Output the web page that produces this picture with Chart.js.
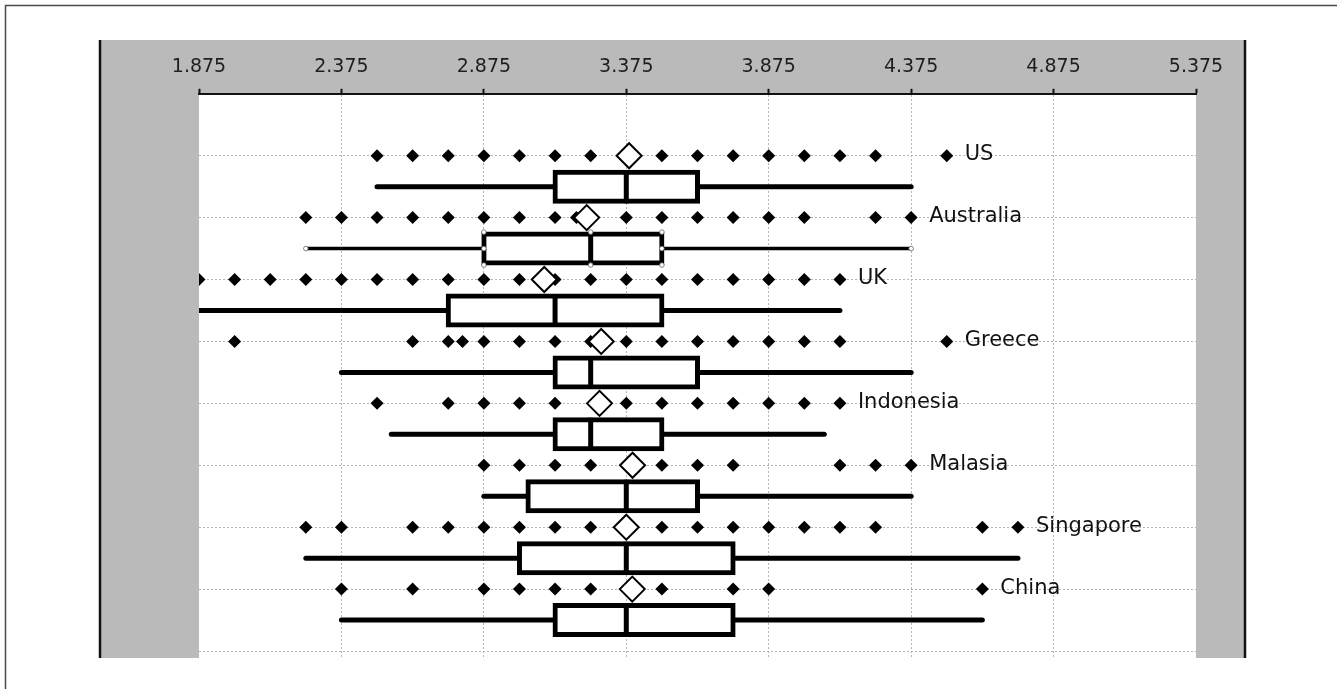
<!DOCTYPE html>
<html>
<head>
<meta charset="utf-8">
<title>Country score distributions</title>
<script src="https://cdn.jsdelivr.net/npm/chart.js@4.4.1/dist/chart.umd.min.js"></script>
<style>
  html, body { margin: 0; padding: 0; background: #fff; }
  canvas { display: block; }
</style>
</head>
<body>
<canvas id="chart" width="1337" height="689"></canvas>
<script>
// ---- data ---------------------------------------------------------------
const categories = ['US', 'Australia', 'UK', 'Greece', 'Indonesia', 'Malasia', 'Singapore', 'China'];
const xTickValues = [1.875, 2.375, 2.875, 3.375, 3.875, 4.375, 4.875, 5.375];

// distinct observed scores per country
const usScores        = [2.5, 2.625, 2.75, 2.875, 3.0, 3.125, 3.25, 3.375, 3.5, 3.625, 3.75, 3.875, 4.0, 4.125, 4.25, 4.5];
const australiaScores = [2.25, 2.375, 2.5, 2.625, 2.75, 2.875, 3.0, 3.125, 3.2, 3.25, 3.375, 3.5, 3.625, 3.75, 3.875, 4.0, 4.25, 4.375];
const ukScores        = [1.875, 2.0, 2.125, 2.25, 2.375, 2.5, 2.625, 2.75, 2.875, 3.0, 3.125, 3.25, 3.375, 3.5, 3.625, 3.75, 3.875, 4.0, 4.125];
const greeceScores    = [2.0, 2.625, 2.75, 2.8, 2.875, 3.0, 3.125, 3.25, 3.375, 3.5, 3.625, 3.75, 3.875, 4.0, 4.125, 4.5];
const indonesiaScores = [2.5, 2.75, 2.875, 3.0, 3.125, 3.375, 3.5, 3.625, 3.75, 3.875, 4.0, 4.125];
const malasiaScores   = [2.875, 3.0, 3.125, 3.25, 3.375, 3.5, 3.625, 3.75, 4.125, 4.25, 4.375];
const singaporeScores = [2.25, 2.375, 2.625, 2.75, 2.875, 3.0, 3.125, 3.25, 3.375, 3.5, 3.625, 3.75, 3.875, 4.0, 4.125, 4.25, 4.625, 4.75];
const chinaScores     = [2.375, 2.625, 2.875, 3.0, 3.125, 3.25, 3.375, 3.5, 3.75, 3.875, 4.625];
const scoreRows = [usScores, australiaScores, ukScores, greeceScores, indonesiaScores, malasiaScores, singaporeScores, chinaScores];

// summary statistics per country
const means    = [3.385, 3.236, 3.087, 3.287, 3.281, 3.397, 3.375, 3.396];
const lows     = [2.5, 2.25, 1.875, 2.375, 2.55, 2.875, 2.25, 2.375];
const q1s      = [3.125, 2.875, 2.75, 3.125, 3.125, 3.03, 3.0, 3.125];
const medians  = [3.375, 3.25, 3.125, 3.25, 3.25, 3.375, 3.375, 3.375];
const q3s      = [3.625, 3.5, 3.5, 3.625, 3.5, 3.625, 3.75, 3.75];
const highs    = [4.375, 4.375, 4.125, 4.375, 4.07, 4.375, 4.75, 4.625];

// ---- layout / style -----------------------------------------------------
const SELECTED_ROW = 1;          // the box drawn with edit handles
const BOX_SHIFT = 0.5;           // box sits half a row below its dot row
const ROW_PX = 62;
const AREA = { left: 199, right: 1196, top: 93, bottom: 658 };
const PANEL = { left: 100, right: 1245, top: 40, bottom: 658 };
const GRID_COLOR = '#b4b4b4';

const dotRowY = i => i;
const boxRowY = i => i + BOX_SHIFT;

// ---- datasets -----------------------------------------------------------
const whiskerSets = categories.map((name, i) => ({
  type: 'line',
  label: name + ' range',
  data: [{ x: lows[i], y: boxRowY(i) }, { x: highs[i], y: boxRowY(i) }],
  borderColor: '#000',
  borderWidth: i === SELECTED_ROW ? 3.5 : 5,
  borderCapStyle: 'round',
  pointRadius: 0,
  showLine: true,
  fill: false,
  order: 6
}));

// boxes: the outline is centred on the quartile values
const boxSet = {
  type: 'bar',
  label: 'interquartile range',
  indexAxis: 'y',
  grouped: false,
  data: categories.map((name, i) => ({ x: [q1s[i], q3s[i]], y: boxRowY(i) })),
  backgroundColor: '#fff',
  borderColor: '#000',
  borderWidth: 5,
  inflateAmount: 2.5,
  borderSkipped: false,
  barThickness: 29,
  order: 5
};

const medianSet = {
  type: 'scatter',
  label: 'median',
  data: categories.map((name, i) => ({ x: medians[i], y: boxRowY(i) })),
  pointStyle: 'line',
  rotation: 90,
  radius: 16.5,
  borderColor: '#000',
  borderWidth: 5,
  order: 4
};

const dotSet = {
  type: 'scatter',
  label: 'scores',
  data: scoreRows.flatMap((row, i) => row.map(v => ({ x: v, y: dotRowY(i) }))),
  pointStyle: 'rectRot',
  radius: 6.5,
  backgroundColor: '#000',
  borderWidth: 0,
  order: 3
};

const meanSet = {
  type: 'scatter',
  label: 'mean',
  data: categories.map((name, i) => ({ x: means[i], y: dotRowY(i) })),
  pointStyle: 'rectRot',
  radius: 12.5,
  backgroundColor: '#fff',
  borderColor: '#000',
  borderWidth: 2,
  order: 1
};

// ---- plugins ------------------------------------------------------------
const framePlugin = {
  id: 'frame',
  beforeDraw(chart) {
    const { ctx, width, height } = chart;
    ctx.save();
    ctx.fillStyle = '#fff';
    ctx.fillRect(0, 0, width, height);
    // outer rule lines
    ctx.strokeStyle = '#4a4a4a';
    ctx.lineWidth = 1.5;
    ctx.beginPath();
    ctx.moveTo(5.5, height);
    ctx.lineTo(5.5, 5.5);
    ctx.lineTo(width, 5.5);
    ctx.stroke();
    // grey panel
    ctx.fillStyle = '#bababa';
    ctx.fillRect(PANEL.left, PANEL.top, PANEL.right - PANEL.left, PANEL.bottom - PANEL.top);
    ctx.strokeStyle = '#111';
    ctx.lineWidth = 2.5;
    ctx.beginPath();
    ctx.moveTo(PANEL.left, PANEL.top);
    ctx.lineTo(PANEL.left, PANEL.bottom);
    ctx.moveTo(PANEL.right, PANEL.top);
    ctx.lineTo(PANEL.right, PANEL.bottom);
    ctx.stroke();
    // white plotting field
    const a = chart.chartArea;
    ctx.fillStyle = '#fff';
    ctx.fillRect(a.left, a.top, a.right - a.left, a.bottom - a.top);
    ctx.restore();
  }
};

const labelPlugin = {
  id: 'rowLabels',
  afterDatasetsDraw(chart) {
    const { ctx, scales: { x, y } } = chart;
    ctx.save();
    ctx.font = '21px "DejaVu Sans"';
    ctx.fillStyle = '#111';
    ctx.textAlign = 'left';
    ctx.textBaseline = 'middle';
    categories.forEach((name, i) => {
      const last = Math.max(...scoreRows[i]);
      ctx.fillText(name, x.getPixelForValue(last) + 18, y.getPixelForValue(dotRowY(i)) - 1);
    });
    ctx.restore();
  }
};

// small edit handles around the selected box
const handlePlugin = {
  id: 'handles',
  afterDatasetsDraw(chart) {
    const { ctx, scales: { x, y } } = chart;
    const i = SELECTED_ROW;
    const cy = y.getPixelForValue(boxRowY(i));
    const half = 16.5;
    const pts = [
      [q1s[i], -half], [q1s[i], 0], [q1s[i], half],
      [medians[i], -half], [medians[i], half],
      [q3s[i], -half], [q3s[i], 0], [q3s[i], half],
      [lows[i], 0], [highs[i], 0]
    ];
    ctx.save();
    ctx.fillStyle = '#fff';
    ctx.strokeStyle = '#666';
    ctx.lineWidth = 0.8;
    pts.forEach(([v, dy]) => {
      ctx.beginPath();
      ctx.arc(x.getPixelForValue(v), cy + dy, 2.3, 0, Math.PI * 2);
      ctx.fill();
      ctx.stroke();
    });
    ctx.restore();
  }
};

// ---- chart --------------------------------------------------------------
new Chart(document.getElementById('chart'), {
  type: 'scatter',
  data: {
    datasets: [meanSet, dotSet, medianSet, boxSet, ...whiskerSets]
  },
  options: {
    responsive: false,
    animation: false,
    events: [],
    layout: {
      padding: { left: AREA.left, right: 1337 - AREA.right, top: 46, bottom: 689 - AREA.bottom }
    },
    plugins: {
      legend: { display: false },
      tooltip: { enabled: false }
    },
    scales: {
      x: {
        type: 'linear',
        position: 'top',
        min: xTickValues[0],
        max: xTickValues[xTickValues.length - 1],
        beginAtZero: false,
        offset: false,
        afterBuildTicks: axis => { axis.ticks = xTickValues.map(v => ({ value: v })); },
        ticks: {
          padding: 10,
          color: '#1e1e1e',
          font: { family: 'DejaVu Sans', size: 19 },
          maxRotation: 0,
          autoSkip: false,
          callback: v => Number(v).toFixed(3)
        },
        grid: {
          offset: false,
          color: ctx => (ctx.index === 0 || ctx.index === xTickValues.length - 1) ? 'rgba(0,0,0,0)' : GRID_COLOR,
          lineWidth: 1,
          drawTicks: true,
          tickLength: 5,
          tickColor: '#111',
          tickWidth: 2
        },
        border: { display: true, color: '#111', width: 2, dash: [2, 2] }
      },
      y: {
        type: 'linear',
        reverse: true,
        min: -1,
        max: -1 + (AREA.bottom - AREA.top) / ROW_PX,
        offset: false,
        afterBuildTicks: axis => { axis.ticks = categories.map((c, i) => ({ value: i })).concat([{ value: categories.length }]); },
        ticks: { display: false },
        grid: {
          offset: false,
          color: GRID_COLOR,
          lineWidth: 1,
          drawTicks: false
        },
        border: { display: false, dash: [2, 2] }
      }
    }
  },
  plugins: [framePlugin, labelPlugin, handlePlugin]
});
</script>
</body>
</html>
